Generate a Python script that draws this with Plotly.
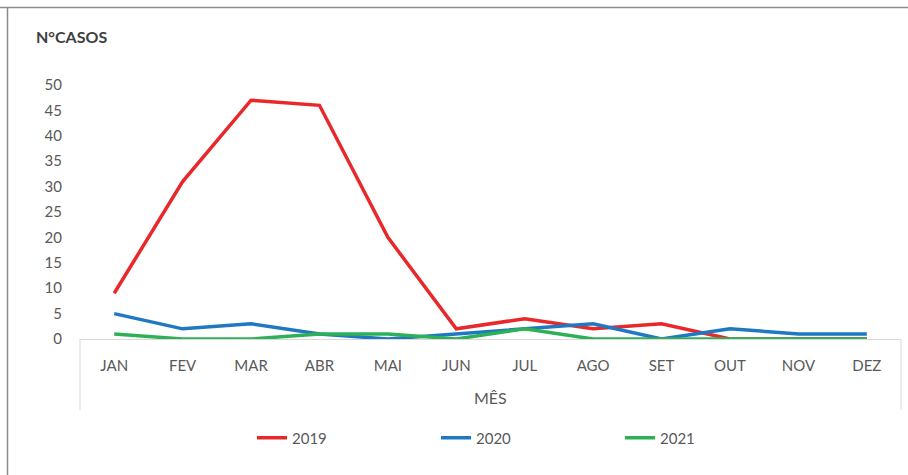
import plotly.graph_objects as go

months = ["JAN", "FEV", "MAR", "ABR", "MAI", "JUN", "JUL", "AGO", "SET", "OUT", "NOV", "DEZ"]
cases_2019 = [9, 31, 47, 46, 20, 2, 4, 2, 3, 0, 0, 0]
cases_2020 = [5, 2, 3, 1, 0, 1, 2, 3, 0, 2, 1, 1]
cases_2021 = [1, 0, 0, 1, 1, 0, 2, 0, 0, 0, 0, 0]
y_ticks = [0, 5, 10, 15, 20, 25, 30, 35, 40, 45, 50]

series = [
    ("2019", cases_2019, "#E8282B"),
    ("2020", cases_2020, "#1F78C1"),
    ("2021", cases_2021, "#2EB156"),
]

FONT = "Lato"
W, H = 908, 475
L, R, T, B = 80, 7, 85, 136
pw, ph = W - L - R, H - T - B

def px_x(p):
    return (p - L) / pw

def px_y(p):
    return (H - B - p) / ph

fig = go.Figure()
for name, vals, col in series:
    fig.add_trace(go.Scatter(x=months, y=vals, mode="lines", name=name,
                             line=dict(color=col, width=3.5)))

fig.update_layout(
    width=W, height=H,
    margin=dict(l=L, r=R, t=T, b=B, autoexpand=False),
    paper_bgcolor="white", plot_bgcolor="white",
    font=dict(family=FONT, size=15, color="#595959"),
    xaxis=dict(range=[-0.5, 11.5], showgrid=False, zeroline=False,
               showline=True, linecolor="#D9D9D9", linewidth=1,
               ticks="", ticklabelstandoff=13, tickfont=dict(size=15, color="#595959")),
    yaxis=dict(range=[0, 50], tickvals=y_ticks, showgrid=False, zeroline=False,
               showline=False, ticks="", ticklabelstandoff=17,
               tickfont=dict(size=15, color="#595959")),
    showlegend=True,
    legend=dict(orientation="h", x=px_x(252), xanchor="left", y=px_y(438), yanchor="middle",
                entrywidth=139, entrywidthmode="pixels",
                font=dict(size=15, color="#595959"), itemwidth=30, tracegroupgap=0),
    shapes=[
        dict(type="line", xref="paper", yref="paper", x0=0, x1=0, y0=0, y1=px_y(410),
             line=dict(color="#D9D9D9", width=1)),
        dict(type="line", xref="paper", yref="paper", x0=1, x1=1, y0=0, y1=px_y(410),
             line=dict(color="#D9D9D9", width=1)),
        dict(type="line", xref="paper", yref="paper", x0=px_x(0), x1=px_x(W), y0=px_y(7.5), y1=px_y(7.5),
             line=dict(color="#8C8C8C", width=1.5)),
        dict(type="line", xref="paper", yref="paper", x0=px_x(7.5), x1=px_x(7.5), y0=px_y(7.5), y1=px_y(H),
             line=dict(color="#8C8C8C", width=1.5)),
    ],
    annotations=[
        dict(text="N°CASOS", xref="paper", yref="paper", x=px_x(34), y=px_y(37),
             xanchor="left", yanchor="middle", showarrow=False,
             font=dict(size=16, color="#404040", weight="bold")),
        dict(text="MÊS", xref="paper", yref="paper", x=px_x(490), y=px_y(397),
             xanchor="center", yanchor="middle", showarrow=False,
             font=dict(size=16, color="#595959")),
    ],
)

fig.write_html("out.html", config={"displayModeBar": False},
               post_script="document.body.style.margin='0';document.body.style.padding='0';")
